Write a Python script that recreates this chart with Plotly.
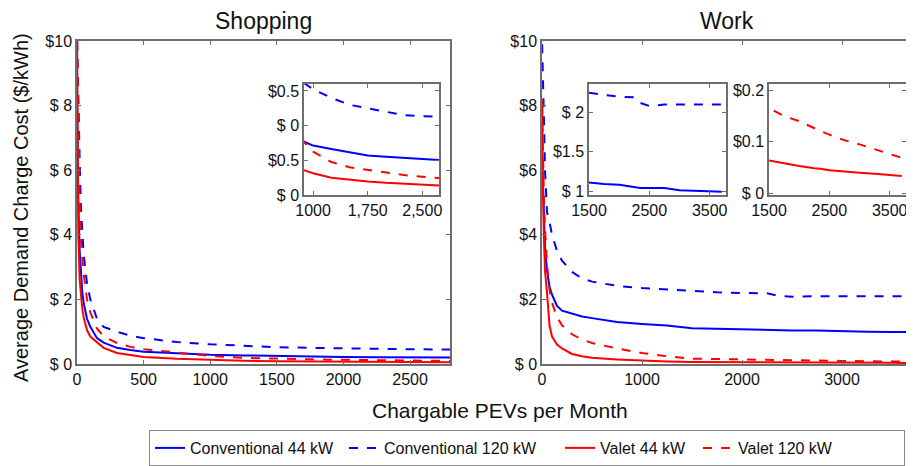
import plotly.graph_objects as go

# ---------------- data ----------------
shop_x = [1, 5, 10, 20, 30, 40, 50, 75, 100, 150, 200, 300, 400, 500, 750, 1000,
          1250, 1500, 1750, 2000, 2250, 2500, 2800]
shop_conv44 = [8.0, 6.5, 5.0, 3.5, 2.7, 2.2, 1.9, 1.4, 1.15, 0.8, 0.66, 0.5, 0.43, 0.38,
               0.33, 0.285, 0.265, 0.245, 0.228, 0.22, 0.212, 0.205, 0.2]
shop_conv120 = [10, 9, 8, 6.3, 4.8, 3.9, 3.4, 2.5, 2.0, 1.4, 1.15, 1.0, 0.88, 0.8,
                0.68, 0.61, 0.56, 0.52, 0.5, 0.48, 0.46, 0.455, 0.45]
shop_valet44 = [10, 6, 4, 2.6, 2.0, 1.7, 1.45, 1.05, 0.85, 0.66, 0.5, 0.34, 0.27, 0.22,
                0.16, 0.125, 0.1, 0.087, 0.078, 0.07, 0.064, 0.059, 0.054]
shop_valet120 = [10, 8.5, 7, 5, 3.8, 3.2, 2.8, 2.0, 1.6, 1.1, 0.85, 0.65, 0.53, 0.46,
                 0.36, 0.25, 0.19, 0.16, 0.145, 0.13, 0.115, 0.105, 0.095]

work_x = [1, 5, 10, 20, 30, 50, 75, 100, 150, 200, 300, 400, 500, 750, 1000, 1250,
          1500, 1750, 2000, 2250, 2350, 2500, 2750, 3000, 3250, 3500, 3700]
work_conv44 = [6.5, 6.0, 5.2, 4.2, 3.6, 2.9, 2.4, 2.15, 1.8, 1.65, 1.55, 1.47, 1.42, 1.3,
               1.24, 1.19, 1.11, 1.09, 1.08, 1.05, 1.04, 1.04, 1.04, 1.01, 1.0, 0.99, 0.99]
work_conv120 = [9.9, 9.5, 8.8, 7.5, 6.0, 4.7, 4.4, 4.0, 3.5, 3.2, 2.85, 2.65, 2.55, 2.42,
                2.35, 2.3, 2.25, 2.22, 2.2, 2.19, 2.12, 2.08, 2.1, 2.1, 2.1, 2.1, 2.1]
work_valet44 = [8.2, 6.5, 5.2, 3.8, 2.9, 2.2, 1.2, 0.85, 0.6, 0.48, 0.31, 0.24, 0.19, 0.14,
                0.1, 0.078, 0.064, 0.058, 0.053, 0.049, 0.048, 0.045, 0.042, 0.04, 0.038,
                0.035, 0.034]
work_valet120 = [8, 7, 6, 5, 4.2, 3.1, 2.3, 1.9, 1.45, 1.2, 0.92, 0.76, 0.65, 0.48,
                 0.34, 0.24, 0.165, 0.15, 0.14, 0.126, 0.121, 0.114, 0.103, 0.095, 0.086,
                 0.077, 0.069]

series_names = ["Conventional 44 kW", "Conventional 120 kW", "Valet 44 kW", "Valet 120 kW"]
series_colors = ["#0000ff", "#0000ff", "#ff0000", "#ff0000"]
series_dash = ["solid", "dash", "solid", "dash"]
legend_slot = [149, 171, 93, 161]

main_yticks = [0, 2, 4, 6, 8, 10]
shop_ytext = ["$ 0", "$ 2", "$ 4", "$ 6", "$ 8", "$10"]
work_ytext = ["$ 0", "$2", "$4", "$6", "$8", "$10"]
shop_xticks = [0, 500, 1000, 1500, 2000, 2500]
work_xticks = [0, 1000, 2000, 3000]

inset1_xticks = [1000, 1750, 2500]
inset1_xtext = ["1000", "1,750", "2,500"]
inset1_yticks = [0, 0.2, 0.4, 0.6]
inset1_ytext = ["$ 0", "$0.5", "$ 0", "$0.5"]
inset2_xticks = [1500, 2500, 3500]
inset2_yticks = [1, 1.5, 2]
inset2_ytext = ["$ 1", "$1.5", "$ 2"]
inset3_xticks = [1500, 2500, 3500]
inset3_yticks = [0, 0.1, 0.2]
inset3_ytext = ["$ 0", "$0.1", "$0.2"]

# ---------------- figure ----------------
W, H = 914, 466
OFF = 8  # page body margin

def dx(a, b):
    return [(a - OFF) / W, (b - OFF) / W]
def dy(top, bot):
    return [1 - (bot - OFF) / H, 1 - (top - OFF) / H]
def px(a):
    return (a - OFF) / W
def py(b):
    return 1 - (b - OFF) / H

fig = go.Figure()
shop = [shop_conv44, shop_conv120, shop_valet44, shop_valet120]
work = [work_conv44, work_conv120, work_valet44, work_valet120]

for i in range(4):
    line = dict(color=series_colors[i], width=2, dash=series_dash[i])
    fig.add_trace(go.Scatter(x=shop_x, y=shop[i], mode="lines", line=line,
                             name=series_names[i], legendwidth=legend_slot[i],
                             xaxis="x", yaxis="y"))
    fig.add_trace(go.Scatter(x=work_x, y=work[i], mode="lines", line=line,
                             showlegend=False, xaxis="x2", yaxis="y2"))
    fig.add_trace(go.Scatter(x=shop_x, y=shop[i], mode="lines", line=line,
                             showlegend=False, xaxis="x3", yaxis="y3"))
    if i < 2:
        fig.add_trace(go.Scatter(x=work_x, y=work[i], mode="lines", line=line,
                                 showlegend=False, xaxis="x4", yaxis="y4"))
    else:
        fig.add_trace(go.Scatter(x=work_x, y=work[i], mode="lines", line=line,
                                 showlegend=False, xaxis="x5", yaxis="y5"))

font = "Liberation Sans, Arial, sans-serif"
axcol = "#6e6e6e"
common = dict(showgrid=False, zeroline=False, showline=True, mirror="ticks",
              linecolor=axcol, linewidth=1.5, ticks="inside", ticklen=4,
              tickcolor=axcol, automargin=False,
              tickfont=dict(family=font, size=16, color="#111"))

fig.update_layout(
    width=W, height=H, margin=dict(l=0, r=0, t=0, b=0, autoexpand=False),
    paper_bgcolor="white", plot_bgcolor="white",
    font=dict(family=font, color="#111"),
    xaxis=dict(domain=dx(77, 450), range=[0, 2800], tickvals=shop_xticks,
               anchor="y", **common),
    yaxis=dict(domain=dy(41, 364), range=[0, 10], tickvals=main_yticks,
               ticktext=shop_ytext, anchor="x", **common),
    xaxis2=dict(domain=dx(542, 912), range=[0, 3700], tickvals=work_xticks,
                anchor="y2", **common),
    yaxis2=dict(domain=dy(41, 364), range=[0, 10], tickvals=main_yticks,
                ticktext=work_ytext, anchor="x2", **common),
    xaxis3=dict(domain=dx(304, 439), range=[875, 2730], tickvals=inset1_xticks,
                ticktext=inset1_xtext, anchor="y3", **common),
    yaxis3=dict(domain=dy(84, 195), range=[0, 0.64], tickvals=inset1_yticks,
                ticktext=inset1_ytext, anchor="x3", **common),
    xaxis4=dict(domain=dx(589, 726), range=[1500, 3770], tickvals=inset2_xticks,
                anchor="y4", **common),
    yaxis4=dict(domain=dy(84, 195), range=[0.95, 2.36], tickvals=inset2_yticks,
                ticktext=inset2_ytext, anchor="x4", **common),
    xaxis5=dict(domain=dx(769, 906), range=[1500, 3770], tickvals=inset3_xticks,
                anchor="y5", **common),
    yaxis5=dict(domain=dy(84, 195), range=[-0.003, 0.212], tickvals=inset3_yticks,
                ticktext=inset3_ytext, anchor="x5", **common),
    showlegend=True,
    legend=dict(orientation="h", x=px(527), y=py(448), xanchor="center",
                yanchor="middle", bordercolor="#888", borderwidth=1,
                font=dict(family=font, size=16, color="#111"), bgcolor="white"),
)

ann = dict(xref="paper", yref="paper", showarrow=False, xanchor="center",
           yanchor="middle")
fig.add_annotation(text="Shopping", x=px(263), y=py(21),
                   font=dict(family=font, size=23, color="#111"), **ann)
fig.add_annotation(text="Work", x=px(727), y=py(21),
                   font=dict(family=font, size=23, color="#111"), **ann)
fig.add_annotation(text="Chargable PEVs per Month", x=px(500), y=py(410),
                   font=dict(family=font, size=21, color="#111"), **ann)
fig.add_annotation(text="Average Demand Charge Cost ($/kWh)", x=px(21), y=py(208),
                   textangle=-90, font=dict(family=font, size=20, color="#111"), **ann)

fig.write_html("out.html")
